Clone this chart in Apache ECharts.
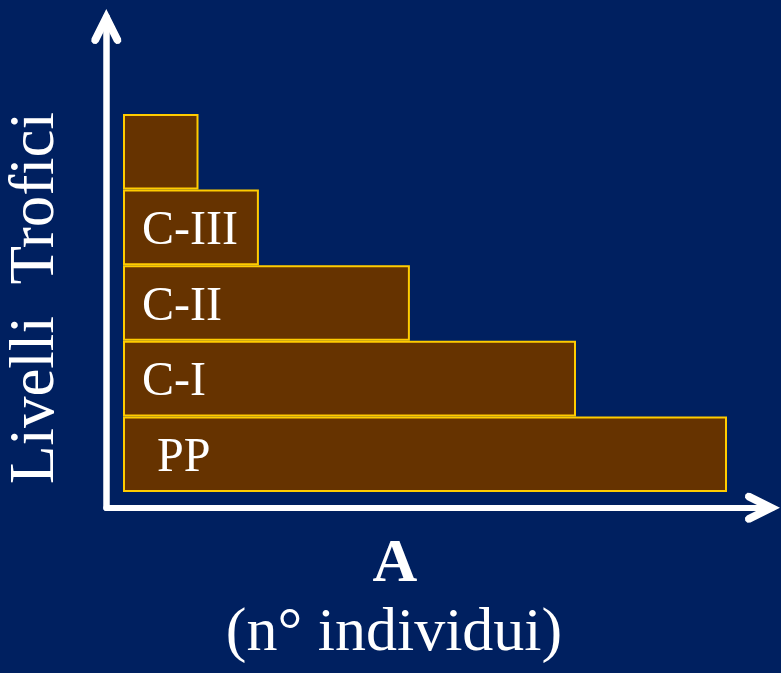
<!DOCTYPE html>
<html>
<head>
<meta charset="utf-8">
<script src="https://cdn.jsdelivr.net/npm/echarts@6/dist/echarts.min.js"></script>
<style>
  html, body { margin: 0; padding: 0; background: #002060; }
  #chart { width: 781px; height: 673px; }
</style>
</head>
<body>
<div id="chart"></div>
<script>
// Trophic levels, bottom (producers) to top
const levels = ['PP', 'C-I', 'C-II', 'C-III', ''];
// Number of individuals per level (relative units)
const individuals = [100, 75, 47.5, 22.5, 12.5];

const yTitle = 'Livelli  Trofici';
const xTitle = 'A';
const xSubtitle = '(n° individui)';

const serif = '"Liberation Serif", "Times New Roman", "DejaVu Serif", serif';

// Open chevron arrow head with rounded arm ends, pointing up in its own frame
const chevron = 'path://M15.5 0 L30.58 30.15 L30.79 33.2 L28.79 35.52 L25.74 35.73 L23.42 33.73 ' +
  'L15.5 17.88 L7.58 33.73 L5.26 35.73 L2.21 35.52 L0.21 33.2 L0.42 30.15 Z';

function arrowAxisLine(width) {
  return {
    show: true,
    onZero: false,
    symbol: ['none', chevron],
    symbolSize: [30, 35],
    symbolOffset: [0, -9.5],
    lineStyle: { color: '#ffffff', width: width }
  };
}

const hiddenParts = {
  axisTick: { show: false },
  axisLabel: { show: false },
  splitLine: { show: false }
};

const chart = echarts.init(document.getElementById('chart'), null, { renderer: 'canvas' });

chart.setOption({
  backgroundColor: '#002060',
  animation: false,
  grid: [
    { left: 123, right: 54, top: 114, bottom: 181 },
    { left: 106.3, right: 9, top: 17, bottom: 165.2 }
  ],
  xAxis: [
    { gridIndex: 0, type: 'value', min: 0, max: 100, show: false },
    Object.assign({ gridIndex: 1, type: 'value', min: 0, max: 1, axisLine: arrowAxisLine(6) }, hiddenParts)
  ],
  yAxis: [
    { gridIndex: 0, type: 'category', data: levels, show: false },
    Object.assign({ gridIndex: 1, type: 'value', min: 0, max: 1, axisLine: arrowAxisLine(6.5) }, hiddenParts)
  ],
  series: [{
    type: 'bar',
    xAxisIndex: 0,
    yAxisIndex: 0,
    barCategoryGap: 0,
    data: individuals.map((v, i) => ({
      value: v,
      label: levels[i] === 'PP' ? { distance: 34 } : undefined
    })),
    itemStyle: { color: '#663300', borderColor: '#ffcc00', borderWidth: 2 },
    label: {
      show: true,
      position: 'insideLeft',
      distance: 19,
      offset: [0, 4],
      formatter: p => levels[p.dataIndex],
      color: '#ffffff',
      fontFamily: serif,
      fontSize: 48
    },
    emphasis: { disabled: true }
  }],
  graphic: [
    {
      type: 'text',
      x: 36, y: 298,
      rotation: Math.PI / 2,
      style: {
        text: yTitle,
        fill: '#ffffff',
        font: '63px ' + serif,
        textAlign: 'center',
        textVerticalAlign: 'middle'
      }
    },
    {
      type: 'text',
      x: 395, y: 565,
      style: {
        text: xTitle,
        fill: '#ffffff',
        font: 'bold 62px ' + serif,
        textAlign: 'center',
        textVerticalAlign: 'middle'
      }
    },
    {
      type: 'text',
      x: 394, y: 634,
      style: {
        text: xSubtitle,
        fill: '#ffffff',
        font: '62px ' + serif,
        textAlign: 'center',
        textVerticalAlign: 'middle'
      }
    }
  ]
});
</script>
</body>
</html>
